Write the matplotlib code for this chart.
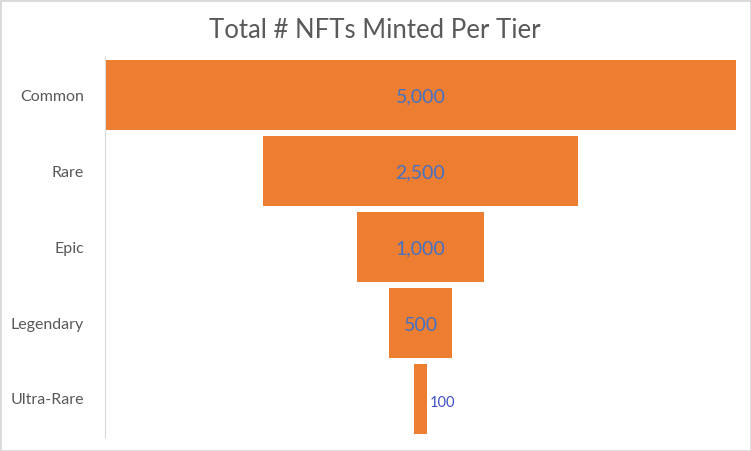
import matplotlib.pyplot as plt
from matplotlib.patches import Rectangle

# Data
tiers = ["Common", "Rare", "Epic", "Legendary", "Ultra-Rare"]
minted = [5000, 2500, 1000, 500, 100]

orange = "#ED7D31"
label_blue = "#4472C4"
gray = "#595959"

plt.rcParams['font.family'] = ['Lato', 'DejaVu Sans']

fig = plt.figure(figsize=(7.51, 4.51), dpi=100)
fig.patch.set_facecolor("white")
fig.patches.append(Rectangle((0, 0), 1, 1, transform=fig.transFigure, fill=False,
                             edgecolor="#D9D9D9", linewidth=2, zorder=10))

W, H = 751, 451
ax = fig.add_axes([105 / W, (H - 437) / H, (736 - 105) / W, (437 - 57) / H])

ypos = list(range(len(tiers)))
lefts = [-v / 2 for v in minted]
ax.barh(ypos, minted, left=lefts, height=0.925, color=orange)

ax.set_xlim(-max(minted) / 2, max(minted) / 2)
ax.set_ylim(len(tiers) - 0.5, -0.5)

for y, v in zip(ypos, minted):
    if v >= 500:
        ax.text(0, y + 0.03, f"{v:,}", ha="center", va="center", fontsize=14, color=label_blue)
    else:
        ax.text(v / 2 + 20, y + 0.05, f"{v:,}", ha="left", va="center", fontsize=10.5,
                color="#3F4FC8")

ax.set_yticks(ypos)
ax.set_yticklabels(tiers, fontsize=11.5, color=gray)
ax.tick_params(axis="y", length=0, pad=15)
ax.set_xticks([])
for side in ["top", "right", "bottom"]:
    ax.spines[side].set_visible(False)
ax.spines["left"].set_color("#D9D9D9")

fig.text(375 / W, 1 - 31 / H, "Total # NFTs Minted Per Tier", ha="center", va="center",
         fontsize=18.5, color=gray)

fig.savefig("out.png", dpi=100)
